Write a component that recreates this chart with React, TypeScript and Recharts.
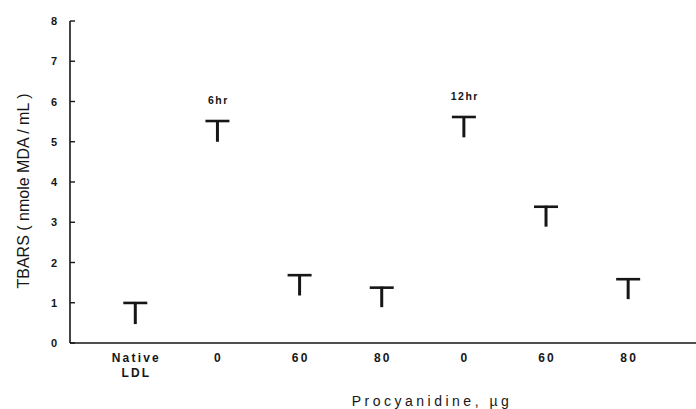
import React from "react";
import { BarChart, Bar, XAxis, YAxis } from "recharts";

const categories = ["Native LDL", "0", "60", "80", "0", "60", "80"];
const means = [0.47, 5.0, 1.18, 0.89, 5.11, 2.89, 1.09];
const sds = [0.55, 0.54, 0.53, 0.51, 0.53, 0.52, 0.52];
const timeLabels = ["", "6hr", "", "", "12hr", "", ""];
const yTicks = [0, 1, 2, 3, 4, 5, 6, 7, 8];
const boundaryTicks = [-0.5, 0.5, 1.5, 2.5, 3.5, 4.5, 5.5, 6.5];

const data = categories.map((c, i) => ({
  cat: c,
  mean: means[i],
  sd: sds[i],
  label: timeLabels[i],
}));

const FONT = "'Liberation Sans', Arial, Helvetica, sans-serif";
const INK = "#161616";

const TShape = (props: any) => {
  const { x, y, width, height, payload } = props;
  const cx = x + width / 2;
  return (
    <g>
      <line x1={cx} x2={cx} y1={y} y2={y + height} stroke={INK} strokeWidth={3} />
      <line x1={cx - 12} x2={cx + 12} y1={y + 1} y2={y + 1} stroke={INK} strokeWidth={2.6} />
      {payload && payload.label ? (
        <text
          x={cx + 1}
          y={y - 16}
          textAnchor="middle"
          fontFamily={FONT}
          fontSize={10.5}
          fontWeight="bold"
          letterSpacing={1.5}
          fill={INK}
        >
          {payload.label}
        </text>
      ) : null}
    </g>
  );
};

const CatTick = (props: any) => {
  const { x, y, payload } = props;
  const parts = String(payload.value).split(" ");
  return (
    <g>
      {parts.map((p: string, i: number) => (
        <text
          key={i}
          x={x + 1}
          y={y + 10 + i * 15}
          textAnchor="middle"
          fontFamily={FONT}
          fontSize={12}
          fontWeight="bold"
          letterSpacing={2.2}
          fill={INK}
        >
          {p}
        </text>
      ))}
    </g>
  );
};

const YTick = (props: any) => {
  const { x, y, payload } = props;
  return (
    <g>
      <line x1={x + 13} x2={x + 18} y1={y} y2={y} stroke={INK} strokeWidth={1.4} />
      <text
        x={x}
        y={y}
        dy={4}
        textAnchor="end"
        fontFamily={FONT}
        fontSize={11}
        fontWeight="bold"
        fill={INK}
      >
        {payload.value}
      </text>
    </g>
  );
};

const YTitle = () => (
  <text
    x={29}
    y={191}
    transform="rotate(-90 29 191)"
    textAnchor="middle"
    fontFamily={FONT}
    fontSize={16}
    fill={INK}
  >
    TBARS ( nmole MDA / mL )
  </text>
);

const XTitle = () => (
  <text
    x={432}
    y={406}
    textAnchor="middle"
    fontFamily={FONT}
    fontSize={14}
    letterSpacing={3.5}
    fill={INK}
  >
    Procyanidine, µg
  </text>
);

export default function App() {
  return (
    <div style={{ position: "absolute", left: 0, top: 0, width: 696, height: 409, background: "#fff" }}>
      <BarChart
        width={696}
        height={409}
        data={data}
        margin={{ top: 21, right: 0, bottom: 0, left: 0 }}
        barGap={0}
      >
        <XAxis
          xAxisId="a"
          type="number"
          domain={[-0.796, 6.825]}
          allowDataOverflow
          ticks={boundaryTicks}
          tick={false}
          tickSize={-3}
          height={1}
          axisLine={{ stroke: INK, strokeWidth: 1.6 }}
          tickLine={{ stroke: INK, strokeWidth: 1 }}
        />
        <XAxis
          xAxisId="b"
          dataKey="cat"
          type="category"
          padding={{ left: 24.3, right: 26.7 }}
          height={65}
          axisLine={false}
          tickLine={false}
          interval={0}
          tick={<CatTick />}
          label={<XTitle />}
        />
        <YAxis
          type="number"
          domain={[0, 8]}
          ticks={yTicks}
          width={70}
          tickSize={0}
          tickMargin={13}
          axisLine={{ stroke: INK, strokeWidth: 1.6 }}
          tickLine={false}
          tick={<YTick />}
          label={<YTitle />}
        />
        <Bar xAxisId="b" dataKey="mean" stackId="s" fill="none" barSize={24} isAnimationActive={false} />
        <Bar xAxisId="b" dataKey="sd" stackId="s" barSize={24} shape={<TShape />} isAnimationActive={false} />
      </BarChart>
    </div>
  );
}
